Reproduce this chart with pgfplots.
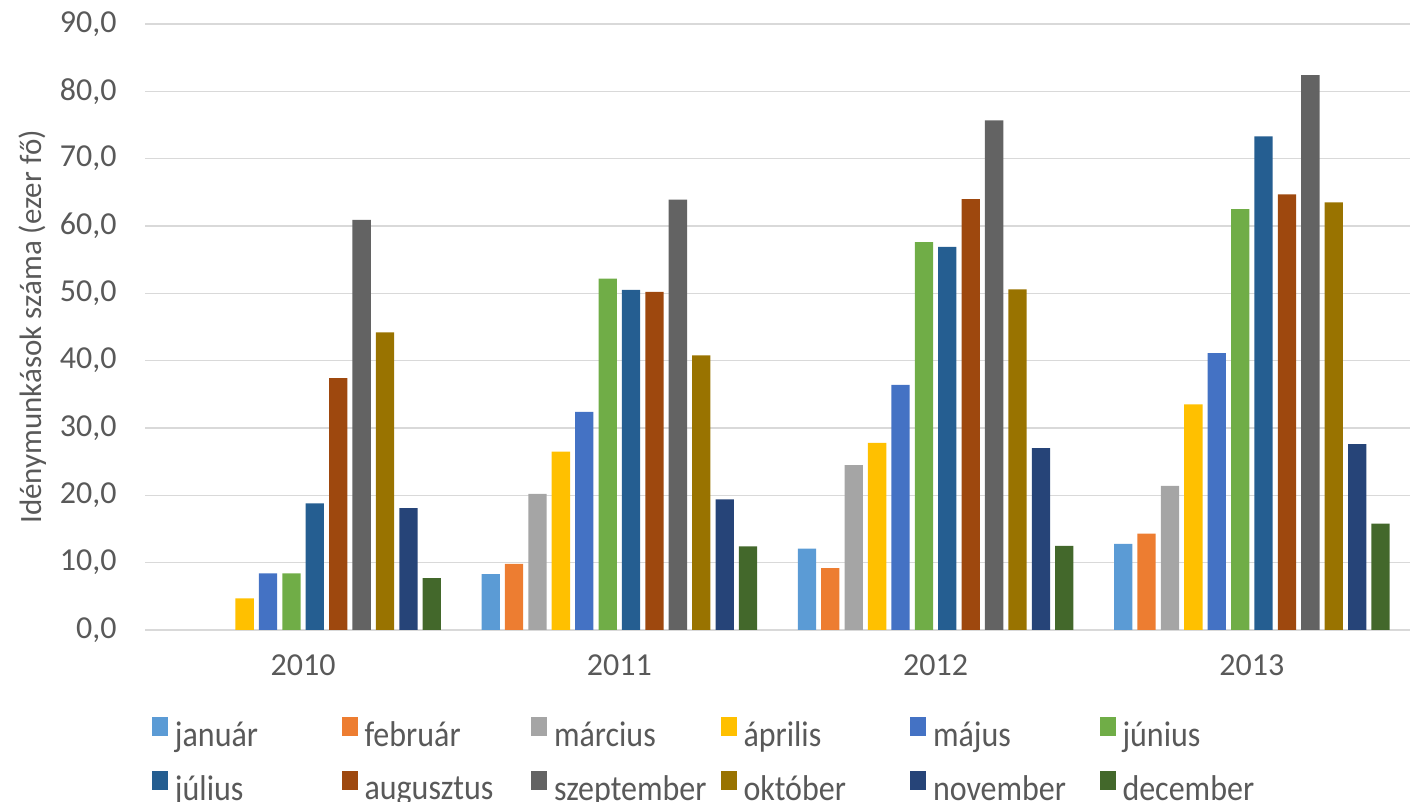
\documentclass[border=0pt]{standalone}
\usepackage{pgfplots}
\pgfplotsset{compat=1.18}
\usepackage{fontspec}
\setmainfont{Carlito}
\usetikzlibrary{calc}
\definecolor{c1}{HTML}{5B9BD5}
\definecolor{c2}{HTML}{ED7D31}
\definecolor{c3}{HTML}{A5A5A5}
\definecolor{c4}{HTML}{FFC000}
\definecolor{c5}{HTML}{4472C4}
\definecolor{c6}{HTML}{70AD47}
\definecolor{c7}{HTML}{255E91}
\definecolor{c8}{HTML}{9E480E}
\definecolor{c9}{HTML}{636363}
\definecolor{c10}{HTML}{997300}
\definecolor{c11}{HTML}{264478}
\definecolor{c12}{HTML}{43682B}
\definecolor{txt}{HTML}{595959}
\definecolor{gridc}{HTML}{D9D9D9}
\newcommand{\lgx}[1]{\makebox[83.25pt][l]{\scalebox{1}[1.12]{#1}}}
\begin{document}
\begin{tikzpicture}
\begin{axis}[
  scale only axis, width=632.5pt, height=303pt,
  xmin=-0.5, xmax=3.5, ymin=0, ymax=90,
  ybar=2.55pt, bar width=9.15pt,
  xtick={0,1,2,3}, xticklabels={2010,2011,2012,2013},
  ytick={0,10,...,90},
  ymajorgrids, grid style={draw=gridc, line width=0.75pt},
  axis x line*=bottom, axis y line*=left,
  y axis line style={draw=none},
  x axis line style={draw=gridc, line width=0.75pt},
  major tick length=0pt, tick style={draw=none},
  ticklabel style={font=\fontsize{16}{19}\selectfont, text=txt},
  yticklabel style={xshift=-10.7pt, /pgf/number format/fixed, /pgf/number format/fixed zerofill, /pgf/number format/precision=1, /pgf/number format/use comma, /pgf/number format/assume math mode=true},
  xticklabel style={yshift=-8.7pt},
  ylabel={Idénymunkások száma (ezer fő)},
  ylabel style={at={(rel axis cs:-0.0885,0.5)}, anchor=center, font=\fontsize{15.5}{18}\selectfont, text=txt},
  legend style={at={(rel axis cs:0,0)}, anchor=north west, xshift=3.5pt, yshift=-43.5pt,
    draw=none, fill=none, inner sep=0pt, outer sep=0pt,
    font=\fontsize{16}{19}\selectfont, text=txt,
    nodes={inner sep=0pt}, row sep=10.5pt,
    /tikz/every odd column/.append style={column sep=3.5pt},
    /tikz/every even column/.append style={column sep=0pt}},
  legend columns=6,
  legend image code/.code={\fill[#1] (0pt,0pt) rectangle (8pt,9.5pt);},
]
\addplot[fill=c1, draw=none] coordinates {(1,8.3) (2,12.1) (3,12.8)};
\addplot[fill=c2, draw=none] coordinates {(1,9.8) (2,9.2) (3,14.3)};
\addplot[fill=c3, draw=none] coordinates {(1,20.2) (2,24.5) (3,21.4)};
\addplot[fill=c4, draw=none] coordinates {(0,4.7) (1,26.5) (2,27.8) (3,33.5)};
\addplot[fill=c5, draw=none] coordinates {(0,8.4) (1,32.4) (2,36.4) (3,41.1)};
\addplot[fill=c6, draw=none] coordinates {(0,8.4) (1,52.2) (2,57.6) (3,62.5)};
\addplot[fill=c7, draw=none] coordinates {(0,18.8) (1,50.5) (2,56.9) (3,73.3)};
\addplot[fill=c8, draw=none] coordinates {(0,37.4) (1,50.2) (2,64.0) (3,64.7)};
\addplot[fill=c9, draw=none] coordinates {(0,60.9) (1,63.9) (2,75.7) (3,82.4)};
\addplot[fill=c10, draw=none] coordinates {(0,44.2) (1,40.8) (2,50.6) (3,63.5)};
\addplot[fill=c11, draw=none] coordinates {(0,18.1) (1,19.4) (2,27.0) (3,27.6)};
\addplot[fill=c12, draw=none] coordinates {(0,7.7) (1,12.4) (2,12.5) (3,15.8)};
\legend{\lgx{január},\lgx{február},\lgx{március},\lgx{április},\lgx{május},\lgx{június},\lgx{július},\lgx{augusztus},\lgx{szeptember},\lgx{október},\lgx{november},\lgx{december}}
\end{axis}
\pgfresetboundingbox
\path[use as bounding box] ($(current axis.south west)+(-72.5pt,-86pt)$) rectangle ($(current axis.north east)+(0pt,12pt)$);
\end{tikzpicture}
\end{document}
